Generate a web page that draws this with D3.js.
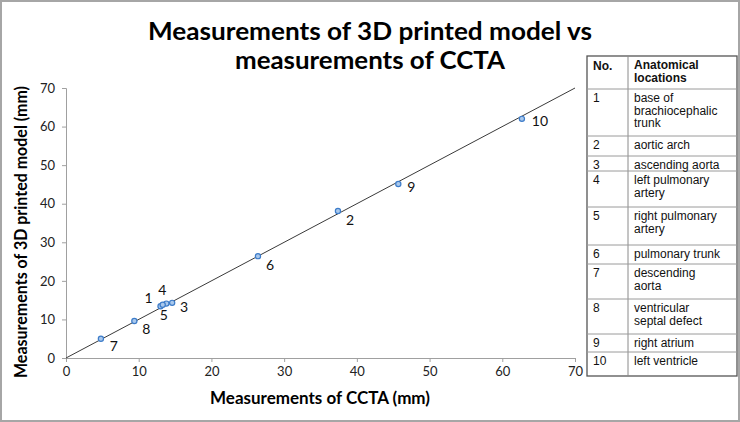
<!DOCTYPE html>
<html lang="en">
<head>
<meta charset="UTF-8">
<title>3D printed model vs CCTA</title>
<script src="https://cdn.jsdelivr.net/npm/d3@7"></script>
<style>
    body { margin: 0; background: #fff; }
    svg { display: block; }
    .num { font-family: Lato, "Open Sans", sans-serif; font-size: 14px; fill: #111; }
    .tick text { font-family: Lato, "Open Sans", sans-serif; font-size: 13px; fill: #222; }
    .tbl { font-family: "Liberation Sans", Arial, sans-serif; font-size: 12px; fill: #111; }
</style>
</head>
<body>
<script>
    // 数据
    const ids = [1, 2, 3, 4, 5, 6, 7, 8, 9, 10];
    const ccta = [13.0, 37.4, 14.6, 13.8, 13.3, 26.4, 4.8, 9.4, 45.7, 62.7];
    const printed = [13.4, 38.1, 14.3, 14.1, 13.8, 26.4, 5.0, 9.6, 45.1, 62.0];
    const xTicks = [0, 10, 20, 30, 40, 50, 60, 70];
    const yTicks = [0, 10, 20, 30, 40, 50, 60, 70];
    const trend = [[0, 0], [70, 70]];
    const locations = [
        ["base of", "brachiocephalic", "trunk"],
        ["aortic arch"],
        ["ascending aorta"],
        ["left pulmonary", "artery"],
        ["right pulmonary", "artery"],
        ["pulmonary trunk"],
        ["descending", "aorta"],
        ["ventricular", "septal defect"],
        ["right atrium"],
        ["left ventricle"]
    ];

    const width = 740, height = 422;
    const svg = d3.select("body").append("svg").attr("width", width).attr("height", height);

    // 外框
    svg.append("rect").attr("x", 1).attr("y", 1).attr("width", width - 2).attr("height", height - 2)
        .attr("fill", "#fff").attr("stroke", "#a6a6a6").attr("stroke-width", 2);

    // 标题
    const title = svg.append("g").attr("font-family", "Lato, 'Open Sans', sans-serif")
        .attr("font-weight", "bold").attr("text-anchor", "middle").attr("fill", "#000");
    title.append("text").attr("x", 370).attr("y", 40).attr("font-size", 25)
        .attr("textLength", 444).attr("lengthAdjust", "spacingAndGlyphs")
        .text("Measurements of 3D printed model vs");
    title.append("text").attr("x", 370).attr("y", 69).attr("font-size", 25)
        .attr("textLength", 270).attr("lengthAdjust", "spacingAndGlyphs")
        .text("measurements of CCTA");

    // 比例尺
    const x = d3.scaleLinear().domain([0, 70]).range([66, 575]);
    const y = d3.scaleLinear().domain([0, 70]).range([358, 88]);

    const xAxis = svg.append("g").attr("transform", "translate(0,358)")
        .call(d3.axisBottom(x).tickValues(xTicks).tickSize(4).tickPadding(5));
    const yAxis = svg.append("g").attr("transform", "translate(66,0)")
        .call(d3.axisLeft(y).tickValues(yTicks).tickSize(4).tickPadding(7));
    [xAxis, yAxis].forEach(a => {
        a.select(".domain").attr("stroke", "#a0a0a0");
        a.selectAll(".tick line").attr("stroke", "#a0a0a0");
    });

    // 轴标题
    svg.append("text").attr("x", 320).attr("y", 404)
        .attr("text-anchor", "middle").attr("font-family", "Lato, 'Open Sans', sans-serif")
        .attr("font-weight", "bold").attr("font-size", 16.5)
        .attr("textLength", 220).attr("lengthAdjust", "spacingAndGlyphs")
        .text("Measurements of CCTA (mm)");
    svg.append("text").attr("transform", "translate(27,232) rotate(-90)")
        .attr("text-anchor", "middle").attr("font-family", "Lato, 'Open Sans', sans-serif")
        .attr("font-weight", "bold").attr("font-size", 16.5)
        .attr("textLength", 292).attr("lengthAdjust", "spacingAndGlyphs")
        .text("Measurements of 3D printed model (mm)");

    // 趋势线
    svg.append("path")
        .attr("d", d3.line().x(d => x(d[0])).y(d => y(d[1]))(trend))
        .attr("stroke", "#3a3a3a").attr("stroke-width", 1).attr("fill", "none");

    // 点
    const points = ids.map((id, i) => ({id: id, cx: ccta[i], cy: printed[i]}));
    svg.append("g").selectAll("circle")
        .data(points)
        .enter()
        .append("circle")
        .attr("cx", d => x(d.cx))
        .attr("cy", d => y(d.cy))
        .attr("r", 2.6)
        .attr("fill", "#a9c8ec")
        .attr("stroke", "#3d7cc9")
        .attr("stroke-width", 1.2);

    // 标签偏移 (像素)
    const labelShift = {1: [-12, -9], 2: [12, 8], 3: [12, 4], 4: [-4, -14], 5: [1, 10],
        6: [12, 8], 7: [13, 7], 8: [12, 8], 9: [13, 2], 10: [18, 2]};
    svg.append("g").selectAll("text")
        .data(points)
        .enter()
        .append("text")
        .attr("class", "num")
        .attr("text-anchor", "middle")
        .attr("dominant-baseline", "central")
        .attr("x", d => x(d.cx) + labelShift[d.id][0])
        .attr("y", d => y(d.cy) + labelShift[d.id][1])
        .text(d => d.id);

    // 表格
    const rowBottoms = [89, 136, 156, 171, 207, 245, 264, 299, 334, 352, 376];
    const tX0 = 587, tX1 = 628, tX2 = 737, tY0 = 56;
    const lineGap = 12.5;
    const table = svg.append("g");
    table.append("rect").attr("x", tX0).attr("y", tY0).attr("width", tX2 - tX0).attr("height", rowBottoms[10] - tY0)
        .attr("fill", "#fff").attr("stroke", "#555").attr("stroke-width", 1.3);
    table.append("line").attr("x1", tX1).attr("x2", tX1).attr("y1", tY0).attr("y2", rowBottoms[10])
        .attr("stroke", "#8a8a8a");
    table.selectAll("line.row")
        .data(rowBottoms.slice(0, 10))
        .enter()
        .append("line")
        .attr("class", "row")
        .attr("x1", tX0).attr("x2", tX2)
        .attr("y1", d => d).attr("y2", d => d)
        .attr("stroke", "#9a9a9a");

    table.append("text").attr("class", "tbl").attr("font-weight", "bold")
        .attr("x", 593).attr("y", tY0 + 14).text("No.");
    const head = table.append("text").attr("class", "tbl").attr("font-weight", "bold");
    head.append("tspan").attr("x", 634).attr("y", tY0 + 13).text("Anatomical");
    head.append("tspan").attr("x", 634).attr("y", tY0 + 13 + lineGap).text("locations");

    ids.forEach((id, i) => {
        const top = rowBottoms[i];
        table.append("text").attr("class", "tbl").attr("x", 593).attr("y", top + 13).text(id);
        const t = table.append("text").attr("class", "tbl");
        locations[i].forEach((line, j) => {
            t.append("tspan").attr("x", 634).attr("y", top + 13 + j * lineGap).text(line);
        });
    });
</script>
</body>
</html>
